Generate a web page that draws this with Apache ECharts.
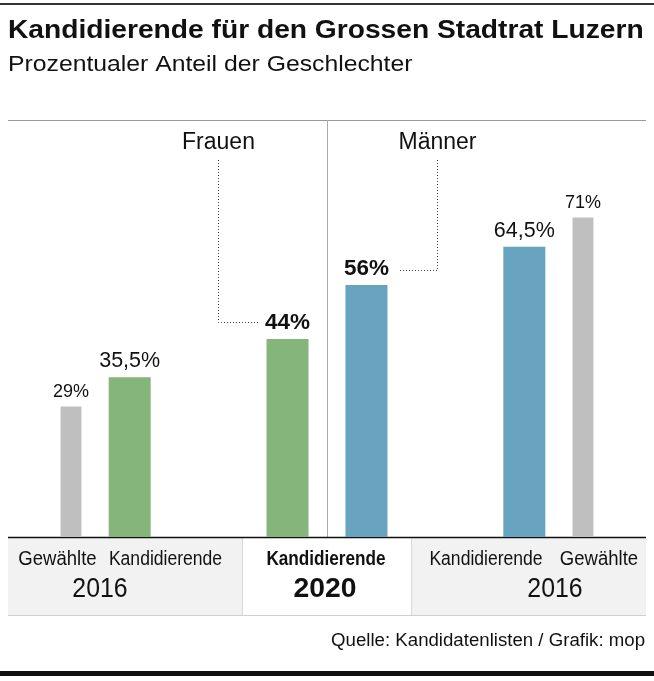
<!DOCTYPE html>
<html>
<head>
<meta charset="utf-8">
<script src="https://cdn.jsdelivr.net/npm/echarts@6/dist/echarts.min.js"></script>
<style>
html,body{margin:0;padding:0;background:#fff;}
#chart{width:654px;height:681px;}
</style>
</head>
<body>
<div id="chart"></div>
<script>
// ---- data ----
const categories = ['Gewählte 2016 Frauen', 'Kandidierende 2016 Frauen', 'Kandidierende 2020 Frauen', 'Kandidierende 2020 Männer', 'Kandidierende 2016 Männer', 'Gewählte 2016 Männer'];
const values = [29, 35.5, 44, 56, 64.5, 71];
const groups = ['Frauen', 'Männer'];
const bandLabels = ['Gewählte', 'Kandidierende', 'Kandidierende', 'Kandidierende', 'Gewählte'];
const yearLabels = ['2016', '2020', '2016'];
const title = 'Kandidierende für den Grossen Stadtrat Luzern';
const subtitle = 'Prozentualer Anteil der Geschlechter';
const source = 'Quelle: Kandidatenlisten / Grafik: mop';

// ---- layout / style ----
const SLOT_COUNT = 27;
const SLOTS = [0, 3, 11, 15, 23, 26];
const KIND = ['elected', 'cand', 'cand2020', 'cand2020', 'cand', 'elected'];
const COLORS = ['#bfbfbf', '#85b57a', '#85b57a', '#68a3bf', '#68a3bf', '#bfbfbf'];
const LABEL_STYLE = {
  elected: {fontSize: 18, fontWeight: 'normal'},
  cand: {fontSize: 21.5, fontWeight: 'normal'},
  cand2020: {fontSize: 22.5, fontWeight: 'bold'}
};
const FONT = "'Liberation Sans', Arial, sans-serif";

const slotCats = [];
for (let i = 0; i < SLOT_COUNT; i++) slotCats.push('');
const grayData = slotCats.map(() => '-');
const colorData = slotCats.map(() => '-');
categories.forEach((c, i) => {
  slotCats[SLOTS[i]] = c;
  const item = {
    value: values[i],
    itemStyle: {color: COLORS[i]},
    label: Object.assign({}, LABEL_STYLE[KIND[i]])
  };
  if (KIND[i] === 'elected') grayData[SLOTS[i]] = item; else colorData[SLOTS[i]] = item;
});

const fmt = p => String(p.value).replace('.', ',') + '%';

const chart = echarts.init(document.getElementById('chart'), null, {renderer: 'canvas'});

const hiddenX = {
  type: 'category', data: slotCats,
  axisLine: {show: false}, axisTick: {show: false}, axisLabel: {show: false}, splitLine: {show: false}
};
const option = {
  backgroundColor: '#fff',
  animation: false,
  grid: {left: 60.6, right: 60.6, top: 87, bottom: 144},
  xAxis: [Object.assign({}, hiddenX), Object.assign({}, hiddenX)],
  yAxis: {type: 'value', min: 0, max: 100, show: false, splitLine: {show: false}},
  series: [
    {
      type: 'bar', xAxisIndex: 0, data: grayData, barWidth: 22,
      label: {show: true, position: 'top', distance: 5, color: '#111', fontFamily: FONT, formatter: fmt}
    },
    {
      type: 'bar', xAxisIndex: 1, data: colorData, barWidth: 42,
      label: {show: true, position: 'top', distance: 5, color: '#111', fontFamily: FONT, formatter: fmt}
    }
  ],
  graphic: []
};
chart.setOption(option);

function px(i) { return chart.convertToPixel({xAxisIndex: 1, yAxisIndex: 0}, [SLOTS[i], values[i]]); }
const base = Math.round(chart.convertToPixel({yAxisIndex: 0}, 0));
const pF = px(2), pM = px(3);
const midX = (pF[0] + pM[0]) / 2;

const g = [];
function txt(t, x, y, font, opts) {
  const o = Object.assign({align: 'center', sx: 1}, opts || {});
  g.push({type: 'text', x: x, y: y, scaleX: o.sx,
    style: {text: t, x: 0, y: 0, textAlign: o.align, textVerticalAlign: 'middle', font: font, fill: '#111'}});
}
// top / bottom rules
g.push({type: 'rect', shape: {x: 0, y: 3, width: 654, height: 2}, style: {fill: '#333'}});
g.push({type: 'rect', shape: {x: 0, y: 671, width: 654, height: 5}, style: {fill: '#111'}});
// titles
txt(title, 8, 31, "bold 25.5px " + FONT, {align: 'left', sx: 1.105});
txt(subtitle, 8, 65, "22px " + FONT, {align: 'left', sx: 1.125});
// chart frame lines
g.push({type: 'line', shape: {x1: 8, y1: 120.5, x2: 646, y2: 120.5}, style: {stroke: '#999', lineWidth: 1}});
g.push({type: 'line', shape: {x1: Math.round(midX) + 0.5, y1: 120, x2: Math.round(midX) + 0.5, y2: base}, style: {stroke: '#aaa', lineWidth: 1}});
// bottom band
g.push({type: 'rect', shape: {x: 8, y: base, width: 234, height: 615 - base}, style: {fill: '#f2f2f2'}});
g.push({type: 'rect', shape: {x: 412, y: base, width: 234, height: 615 - base}, style: {fill: '#f2f2f2'}});
g.push({type: 'line', shape: {x1: 242.5, y1: base, x2: 242.5, y2: 615}, style: {stroke: '#d8d8d8', lineWidth: 1}});
g.push({type: 'line', shape: {x1: 411.5, y1: base, x2: 411.5, y2: 615}, style: {stroke: '#d8d8d8', lineWidth: 1}});
g.push({type: 'line', shape: {x1: 8, y1: 615.5, x2: 646, y2: 615.5}, style: {stroke: '#cfcfcf', lineWidth: 1}});
g.push({type: 'line', shape: {x1: 8, y1: base + 0.5, x2: 646, y2: base + 0.5}, style: {stroke: '#111', lineWidth: 1.5}});
// band labels
const bandX = [57.5, 165.5, 326, 486, 599];
bandLabels.forEach((t, i) => {
  const sx = i === 2 ? 0.88 : (t === 'Gewählte' ? 0.95 : 0.9);
  txt(t, bandX[i], 560, (i === 2 ? 'bold ' : '') + '19.5px ' + FONT, {sx: sx});
});
const yearX = [100, 325, 555];
yearLabels.forEach((t, i) => {
  txt(t, yearX[i], 590, (i === 1 ? 'bold ' : '') + '27px ' + FONT, {sx: i === 1 ? 1.05 : 0.92});
});
// source
txt(source, 645, 641, '17.5px ' + FONT, {align: 'right', sx: 1.065});
// group annotations with dotted connectors
const fx = Math.round(pF[0] - 70) + 0.5, fy = Math.round(pF[1] - 17) + 0.5;
txt(groups[0], fx, 143, '23px ' + FONT);
g.push({type: 'polyline', shape: {points: [[fx, 160], [fx, fy], [pF[0] - 29, fy]]}, style: {stroke: '#444', lineWidth: 1, lineDash: [1, 2], fill: null}});
const mx = Math.round(pM[0] + 70.5) + 0.5, my = Math.round(pM[1] - 15) + 0.5;
txt(groups[1], mx, 143, '23px ' + FONT);
g.push({type: 'polyline', shape: {points: [[mx, 160], [mx, my], [pM[0] + 32, my]]}, style: {stroke: '#444', lineWidth: 1, lineDash: [1, 2], fill: null}});

chart.setOption({graphic: g});
</script>
</body>
</html>
